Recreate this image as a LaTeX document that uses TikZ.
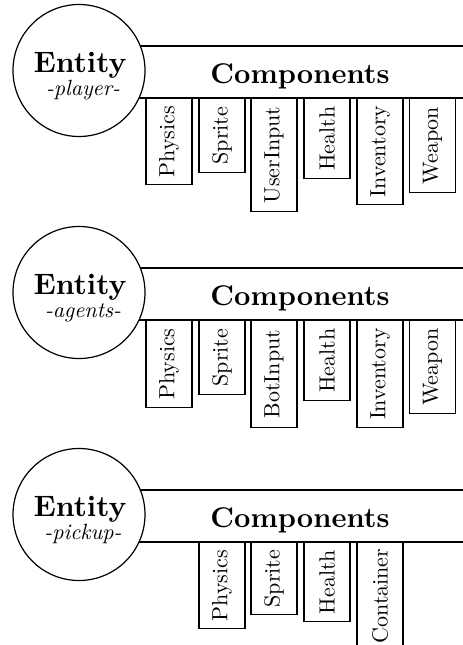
\documentclass[tikz,border=0pt]{standalone}
\usepackage{fontspec}
\setmainfont{lmroman10-regular.otf}[BoldFont=lmroman10-bold.otf, ItalicFont=lmroman10-italic.otf]
\usepackage{tikz}
\tikzset{
	entity/.style = {draw, fill=white, circle, minimum size=132pt, inner sep=0pt},
	entname/.style = {anchor=base, inner sep=0pt, font=\fontsize{29.5}{30}\selectfont\bfseries},
	entkind/.style = {anchor=base, inner sep=0pt, font=\fontsize{22}{24}\selectfont\itshape},
	bartext/.style = {anchor=base, inner sep=0pt, font=\fontsize{28.5}{30}\selectfont\bfseries},
	comp/.style = {draw, rotate=90, anchor=east, minimum height=46pt, inner sep=0pt,
		font=\fontsize{22}{24}\selectfont},
}

\begin{document}
\begin{tikzpicture}[x=1pt, y=-1pt, line width=1.2pt]
	\useasboundingbox (0, 0) rectangle (463, 645);
	% entity: player
	\begin{scope}
		\draw (79, 46) -- (463, 46) (79, 98) -- (463, 98);
		\node[entity] (ent1) at (79, 70.5) {};
		\node[entname] (name1) at (80, 72) {Entity};
		\node[entkind] (kind1) at (83, 95) {-player-};
		\node[bartext] (comps1) at (300, 83) {Components};
		\node[comp, minimum width=86pt] (phys1) at (169, 98) {Physics};
		\node[comp, minimum width=74pt] (spr1) at (222, 98) {Sprite};
		\node[comp, minimum width=113pt] (inp1) at (274, 98) {UserInput};
		\node[comp, minimum width=80pt] (hp1) at (327, 98) {Health};
		\node[comp, minimum width=106pt] (inv1) at (380, 98) {Inventory};
		\node[comp, minimum width=94pt] (wpn1) at (432.5, 98) {Weapon};
	\end{scope}
	% entity: agents
	\begin{scope}[yshift=-222pt]
		\draw (79, 46) -- (463, 46) (79, 98) -- (463, 98);
		\node[entity] (ent2) at (79, 70.5) {};
		\node[entname] (name2) at (80, 72) {Entity};
		\node[entkind] (kind2) at (83, 95) {-agents-};
		\node[bartext] (comps2) at (300, 83) {Components};
		\node[comp, minimum width=87pt] (phys2) at (169, 98) {Physics};
		\node[comp, minimum width=74pt] (spr2) at (222, 98) {Sprite};
		\node[comp, minimum width=107pt] (inp2) at (274, 98) {BotInput};
		\node[comp, minimum width=80pt] (hp2) at (327, 98) {Health};
		\node[comp, minimum width=107pt] (inv2) at (380, 98) {Inventory};
		\node[comp, minimum width=93pt] (wpn2) at (432.5, 98) {Weapon};
	\end{scope}
	% entity: pickup
	\begin{scope}[yshift=-444pt]
		\draw (79, 46) -- (463, 46) (79, 98) -- (463, 98);
		\node[entity] (ent3) at (79, 70.5) {};
		\node[entname] (name3) at (80, 72) {Entity};
		\node[entkind] (kind3) at (83, 95) {-pickup-};
		\node[bartext] (comps3) at (300, 83) {Components};
		\node[comp, minimum width=86pt] (phys3) at (222, 98) {Physics};
		\node[comp, minimum width=72pt] (spr3) at (274, 98) {Sprite};
		\node[comp, minimum width=79pt] (hp3) at (327, 98) {Health};
		\node[comp, minimum width=107pt] (box3) at (380, 98) {Container};
	\end{scope}
\end{tikzpicture}
\end{document}
